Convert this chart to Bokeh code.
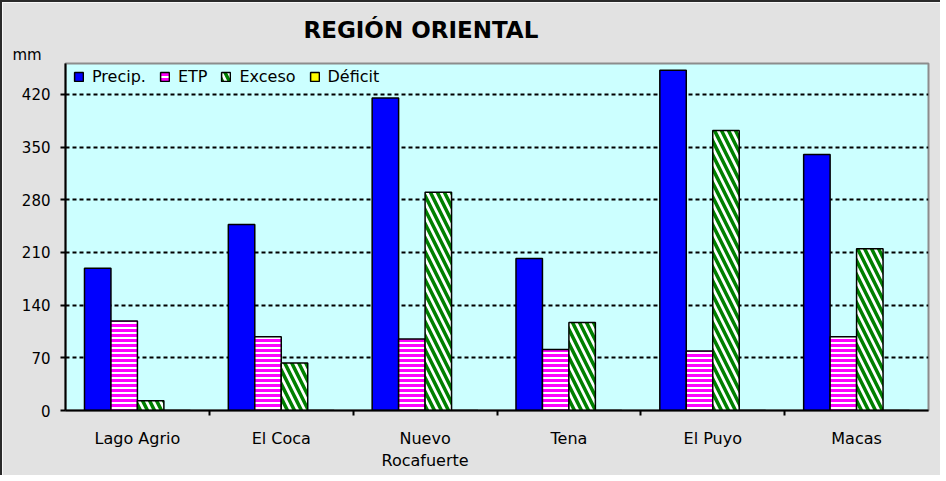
from bokeh.plotting import figure
from bokeh.models import (FactorRange, Range1d, CategoricalAxis, FixedTicker,
                          Title, Legend, LegendItem, ColumnDataSource)
from bokeh.transform import dodge
from bokeh.embed import file_html
from bokeh.resources import INLINE

# ---- data ----
categories = ["Lago Agrio", "El Coca", "Nuevo\nRocafuerte", "Tena", "El Puyo", "Macas"]
precip = [189, 247, 415, 202, 452, 340]
etp = [119, 98, 95, 81, 79, 98]
exceso = [13, 63, 290, 117, 372, 215]
deficit = [0, 0, 0, 0, 0, 0]
y_ticks = [0, 70, 140, 210, 280, 350, 420]
title_text = "REGIÓN ORIENTAL"
unit_text = "mm"

FONT = "DejaVu Sans"

src = ColumnDataSource(dict(cat=categories, precip=precip, etp=etp, exceso=exceso, deficit=deficit))

p = figure(x_range=FactorRange(*categories), y_range=Range1d(0, 461),
           width=940, height=475, output_backend="svg", toolbar_location=None,
           x_axis_location=None, min_border_left=63, min_border_top=61,
           min_border_right=14, min_border_bottom=67)
p.styles = {"border-left": "2px solid #2a2a2a", "border-top": "2px solid #2a2a2a"}
p.background_fill_color = "#ccffff"
p.border_fill_color = "#e2e2e2"
p.outline_line_color = "#8c8c8c"
p.outline_line_width = 2

# title row and unit row (stacked above the plot area)
p.title = Title(text=title_text, align="left", offset=238, standoff=1,
                text_font=FONT, text_font_style="bold", text_font_size="23px",
                text_color="black")
p.add_layout(Title(text=unit_text, align="left", offset=-53, standoff=0,
                   text_font=FONT, text_font_style="normal", text_font_size="15px",
                   text_color="black"), "above")

# y axis
p.yaxis.ticker = FixedTicker(ticks=y_ticks)
p.yaxis.minor_tick_line_color = None
p.yaxis.major_tick_out = 5
p.yaxis.major_tick_in = 0
p.yaxis.major_tick_line_width = 2
p.yaxis.axis_line_width = 2
p.yaxis.axis_line_color = "black"
p.yaxis.major_label_standoff = 10
p.yaxis.major_label_text_font = FONT
p.yaxis.major_label_text_font_size = "15px"
p.yaxis.major_label_text_color = "black"

p.ygrid.ticker = FixedTicker(ticks=y_ticks)
p.ygrid.grid_line_color = "black"
p.ygrid.grid_line_dash = "4 3"
p.ygrid.grid_line_width = 2
p.xgrid.grid_line_color = None

# x axes: tick marks at category boundaries + category labels
edge_factors = ["b%d" % i for i in range(len(categories) + 1)]
p.extra_x_ranges = {"edges": FactorRange(factors=edge_factors, range_padding=-0.5,
                                         range_padding_units="absolute")}
edge_axis = CategoricalAxis(x_range_name="edges",
                            major_label_text_font_size="0px", major_label_standoff=0,
                            major_label_text_alpha=0,
                            major_tick_out=5, major_tick_in=0, major_tick_line_width=2,
                            axis_line_color="black", axis_line_width=2)
cat_axis = CategoricalAxis(axis_line_color=None, major_tick_line_color=None,
                           major_label_standoff=7,
                           major_label_text_font=FONT, major_label_text_font_size="16px",
                           major_label_text_color="black")
p.add_layout(edge_axis, "below")
p.add_layout(cat_axis, "below")

# bars
w = 0.184
r1 = p.vbar(x=dodge("cat", -1.5 * w, range=p.x_range), top="precip", width=w, source=src,
            fill_color="#0000ff", line_color="black", line_width=1.5)
r2 = p.vbar(x=dodge("cat", -0.5 * w, range=p.x_range), top="etp", width=w, source=src,
            fill_color="white", hatch_pattern="horizontal_line", hatch_color="#ff00ff",
            hatch_scale=5, hatch_weight=3, line_color="black", line_width=1.5)
r3 = p.vbar(x=dodge("cat", 0.5 * w, range=p.x_range), top="exceso", width=w, source=src,
            fill_color="white", hatch_pattern="left_diagonal_line", hatch_color="#008000",
            hatch_scale=14, hatch_weight=3.5, line_color="black", line_width=1.5)
r4 = p.vbar(x=dodge("cat", 1.5 * w, range=p.x_range), top="deficit", width=w, source=src,
            fill_color="#ffff00", line_color="black", line_width=1.5)

legend = Legend(items=[LegendItem(label="Precip.", renderers=[r1]),
                       LegendItem(label="ETP", renderers=[r2]),
                       LegendItem(label="Exceso", renderers=[r3]),
                       LegendItem(label="Déficit", renderers=[r4])],
                orientation="horizontal", location=(8, 324),
                background_fill_alpha=0, border_line_color=None,
                glyph_width=11, glyph_height=11, label_height=12,
                label_standoff=8, spacing=13, padding=7, margin=0,
                label_text_font=FONT, label_text_font_size="16px",
                label_text_color="black")
p.add_layout(legend)

open("out.html", "w").write(file_html(p, INLINE))
